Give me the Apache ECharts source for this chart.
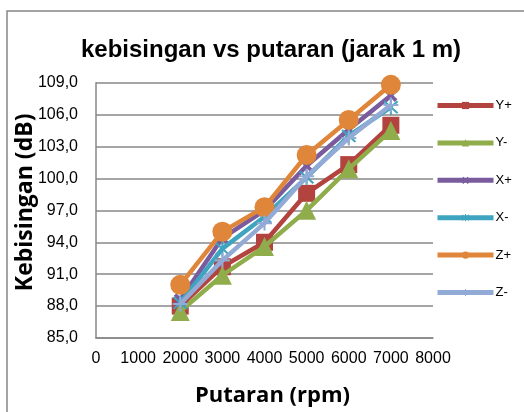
<!DOCTYPE html>
<html>
<head>
<meta charset="utf-8">
<script src="https://cdn.jsdelivr.net/npm/echarts@6/dist/echarts.min.js"></script>
<style>
html,body{margin:0;padding:0;background:#fff;}
#c{width:524px;height:412px;}
</style>
</head>
<body>
<div id="c"></div>
<script>
var rpm = [2000, 3000, 4000, 5000, 6000, 7000];
var seriesNames = ['Y+', 'Y-', 'X+', 'X-', 'Z+', 'Z-'];
var yPlus  = [88.0, 91.7, 94.0, 98.6, 101.3, 105.0];
var yMinus = [87.5, 90.9, 93.6, 97.0, 100.9, 104.5];
var xPlus  = [88.6, 94.4, 97.0, 101.2, 104.6, 107.8];
var xMinus = [88.3, 93.4, 96.4, 100.1, 104.0, 106.7];
var zPlus  = [90.0, 95.0, 97.3, 102.2, 105.5, 108.8];
var zMinus = [88.2, 92.3, 95.8, 100.2, 103.8, 106.9];
var yTicks = [85, 88, 91, 94, 97, 100, 103, 106, 109];
var xTicks = [0, 1000, 2000, 3000, 4000, 5000, 6000, 7000, 8000];

var values = [yPlus, yMinus, xPlus, xMinus, zPlus, zMinus];
var colors = ['#B3433F', '#8FAD4A', '#7A5C9E', '#3FA4BF', '#E0863A', '#92AAD6'];
var symbols = [
  'rect',
  'triangle',
  'path://M0,2 L2,0 L5,3 L8,0 L10,2 L7,5 L10,8 L8,10 L5,7 L2,10 L0,8 L3,5 Z',
  'path://M4.4,0 H5.6 V10 H4.4 Z M0.6,1.5 L1.5,0.6 L9.4,8.5 L8.5,9.4 Z M8.5,0.6 L9.4,1.5 L1.5,9.4 L0.6,8.5 Z',
  'circle',
  'path://M4.3,0 H5.7 V4.3 H10 V5.7 H5.7 V10 H4.3 V5.7 H0 V4.3 H4.3 Z'
];
var sizes = [17, 19, 13, 15, 20, 15];

var series = seriesNames.map(function (n, i) {
  return {
    name: n,
    type: 'line',
    data: rpm.map(function (x, j) { return [x, values[i][j]]; }),
    symbol: symbols[i],
    symbolSize: sizes[i],
    showAllSymbol: true,
    lineStyle: { color: colors[i], width: 4.5 },
    itemStyle: { color: colors[i], borderWidth: 0 },
    emphasis: { disabled: true },
    animation: false,
    z: 2 + i
  };
});

var chart = echarts.init(document.getElementById('c'), null, { renderer: 'canvas' });
chart.setOption({
  animation: false,
  backgroundColor: '#fff',
  graphic: [{
    type: 'rect',
    shape: { x: 7, y: 11, width: 540, height: 430 },
    style: { fill: 'none', stroke: '#878787', lineWidth: 1.5 },
    silent: true,
    z: -1
  }],
  title: {
    text: 'kebisingan vs putaran (jarak 1 m)',
    left: 266,
    top: 33,
    textAlign: 'center',
    textStyle: { fontFamily: 'Liberation Sans, Arial, sans-serif', fontWeight: 'bold', fontSize: 24, color: '#000' }
  },
  legend: {
    orient: 'vertical',
    left: 435,
    top: 99,
    padding: 0,
    itemWidth: 56,
    itemHeight: 9,
    itemGap: 24.4,
    data: seriesNames,
    lineStyle: { width: 5 },
    textStyle: { fontFamily: 'Liberation Sans, Arial, sans-serif', fontSize: 13, color: '#000', padding: [0, 0, 0, -3] }
  },
  grid: { left: 96, right: 91, top: 82.7, bottom: 73, containLabel: false },
  xAxis: {
    type: 'value',
    min: xTicks[0],
    max: xTicks[xTicks.length - 1],
    interval: 1000,
    name: 'Putaran (rpm)',
    nameLocation: 'middle',
    nameGap: 47,
    nameTextStyle: { fontFamily: 'Open Sans, sans-serif', fontWeight: 'bold', fontSize: 22, color: '#000', padding: [0, 0, 0, 16] },
    axisLine: { show: true, lineStyle: { color: '#878787', width: 1.5 } },
    axisTick: { show: false },
    splitLine: { show: false },
    axisLabel: {
      margin: 13,
      fontFamily: 'Liberation Sans, Arial, sans-serif',
      fontSize: 16,
      color: '#000',
      formatter: function (v) { return String(v); }
    }
  },
  yAxis: {
    type: 'value',
    min: yTicks[0],
    max: yTicks[yTicks.length - 1],
    interval: 3,
    name: 'Kebisingan (dB)',
    nameLocation: 'middle',
    nameGap: 59,
    nameMoveOverlap: false,
    nameTextStyle: { fontFamily: 'Open Sans, sans-serif', fontWeight: 'bold', fontSize: 23, color: '#000', padding: [0, 0, 0, 16] },
    axisLine: { show: true, lineStyle: { color: '#878787', width: 1.5 } },
    axisTick: { show: false },
    splitLine: { show: true, lineStyle: { color: '#878787', width: 1.5 } },
    axisLabel: {
      margin: 18,
      fontFamily: 'Liberation Sans, Arial, sans-serif',
      fontSize: 16,
      color: '#000',
      formatter: function (v) { return v.toFixed(1).replace('.', ','); }
    }
  },
  series: series
});
</script>
</body>
</html>
